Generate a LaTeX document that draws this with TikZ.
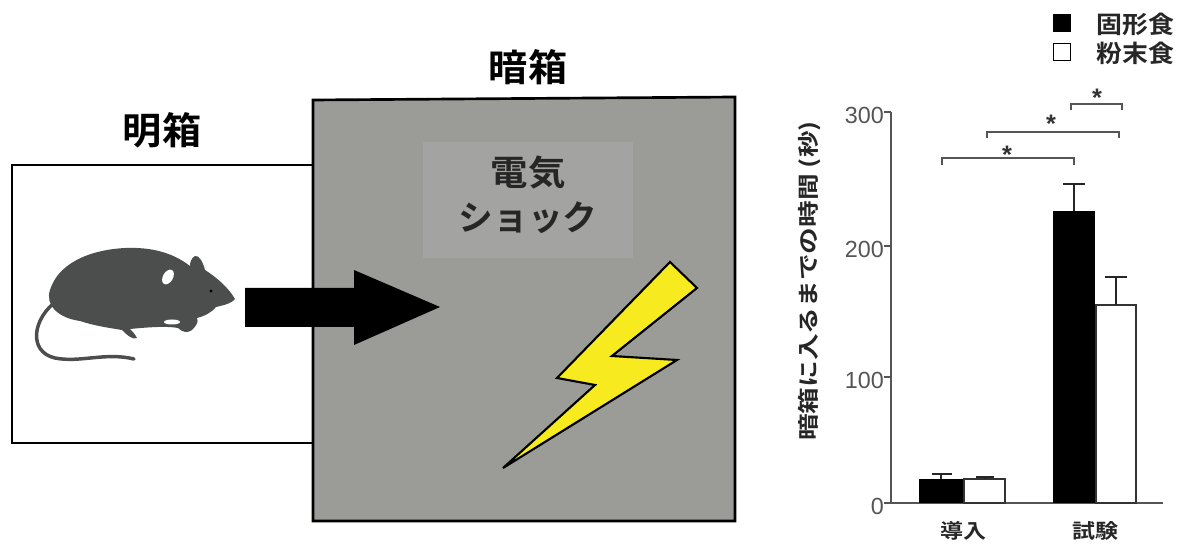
\documentclass[tikz,border=0pt]{standalone}
\usepackage{fontspec}
\setmainfont{Liberation Sans}
\newfontfamily\jp[BoldFont={Noto Sans CJK JP Bold}]{Noto Sans CJK JP}
\definecolor{roomgray}{HTML}{9B9C98}
\definecolor{panelgray}{HTML}{A3A3A1}
\definecolor{mousegray}{HTML}{4C4E4E}
\definecolor{boltyellow}{HTML}{F7EA1F}
\definecolor{axisgray}{HTML}{555555}
\newcommand{\wide}[2]{\scalebox{#1}[1]{#2}}
\begin{document}
\begin{tikzpicture}[x=0.75pt,y=-0.75pt,
  boxline/.style={draw=black,line width=2pt},
  bigjp/.style={font=\jp\bfseries\fontsize{28}{30}\selectfont,inner sep=0pt},
  axisline/.style={draw=axisgray,line width=0.9pt},
  ticklabel/.style={font=\fontsize{17.5}{19}\selectfont,text=axisgray,inner sep=0pt},
  catlabel/.style={font=\jp\bfseries\fontsize{15}{17}\selectfont,text=black!85,inner sep=0pt},
  legtext/.style={font=\jp\bfseries\fontsize{18}{20}\selectfont,text=black!85,anchor=west,inner sep=0pt},
  bracket/.style={draw=axisgray,line width=0.8pt},
  starlabel/.style={font=\bfseries\fontsize{19}{19}\selectfont,text=black!80,inner sep=0pt},
  errbar/.style={draw=black!85,line width=1pt},
  legbox/.style={draw=black,line width=1pt,minimum width=13pt,minimum height=13pt,inner sep=0pt}]
\useasboundingbox (0,0) rectangle (1183,548);
\fill[white] (0,0) rectangle (1183,548);

% ---------- bright compartment ----------
\draw[boxline] (313,165) -- (12,165) -- (12,443) -- (313,443);
\node[bigjp] (lightlabel) at (162,130) {\wide{1.05}{明箱}};

% ---------- dark compartment ----------
\draw[boxline,fill=roomgray] (313,100) -- (735,97) -- (735,521) -- (313,521) -- cycle;
\node[bigjp] (darklabel) at (528,67) {\wide{1.05}{暗箱}};
\node[fill=panelgray,minimum width=158pt,minimum height=87pt,inner sep=0pt] (panel) at (528,200) {};
\node[font=\jp\bfseries\fontsize{26}{34}\selectfont,text=black!85,align=center,inner sep=0pt] (shock) at (528,195)
  {\wide{1.08}{電気}\\ショック};

% lightning bolt
\draw[fill=boltyellow,line width=1.6pt,line join=miter]
  (670,262) -- (557,378) -- (595,385) -- (503,468) -- (677,360) -- (612,356) -- (697,288) -- cycle;

% ---------- block arrow into the dark compartment ----------
\fill[black] (245,288) -- (354,288) -- (354,270) -- (440,307) -- (354,345) -- (354,327) -- (245,327) -- cycle;

% ---------- mouse ----------
\draw[mousegray,line width=2.6pt,line cap=round]
  (58,300) .. controls (32,318) and (28,352) .. (55,358)
  .. controls (80,363) and (105,352) .. (134,359);
\fill[mousegray]
  (235,299) .. controls (228,287) and (216,277) .. (205,270)
  .. controls (203,262) and (199,255) .. (195,256)
  .. controls (191,258) and (190,263) .. (190,266)
  .. controls (172,252) and (150,247) .. (125,248)
  .. controls (88,250) and (58,264) .. (50,290)
  .. controls (45,305) and (58,318) .. (80,321)
  .. controls (95,326) and (110,328) .. (122,330)
  .. controls (128,336) and (133,340) .. (137,338)
  .. controls (135,334) and (132,331) .. (130,329)
  .. controls (150,327) and (168,326) .. (178,328)
  .. controls (183,333) and (188,333) .. (192,330)
  .. controls (196,326) and (199,322) .. (197,318)
  .. controls (205,316) and (212,312) .. (216,307)
  .. controls (225,305) and (232,303) .. (235,299) -- cycle;
\fill[white,rotate around={-30:(168,277)}] (168,277) ellipse (5 and 8);
\fill[white] (172,322) ellipse (8 and 2.5);
\fill[black] (211,291) circle (1.6);

% ---------- bar chart ----------
\coordinate (origin) at (891,503);
\draw[axisline] (891,112) -- (origin) -- (1163,503);
\foreach \v/\yy in {0/503,100/377,200/246,300/112}{
  \draw[axisline] (884,\yy) -- (891,\yy);
  \node[ticklabel,anchor=east] at (884,\yy+3) {\v};
}
% bars: intro
\fill[black] (919,479) rectangle (963,503);
\draw[line width=0.9pt,draw=black!80] (964,479) rectangle (1005,503);
\draw[errbar] (941,479) -- (941,474) (932,474) -- (952,474);
\draw[errbar] (985,479) -- (985,477) (976,477) -- (994,477);
% bars: test
\fill[black] (1053,211) rectangle (1095,503);
\draw[line width=0.9pt,draw=black!80] (1096,305) rectangle (1136,503);
\draw[errbar] (1074,211) -- (1074,184) (1063,184) -- (1085,184);
\draw[errbar,line width=1.2pt] (1116,305) -- (1116,277) (1105,277) -- (1127,277);

\node[catlabel] (intro) at (963,531) {\wide{1.15}{導入}};
\node[catlabel] (test) at (1095,531) {\wide{1.15}{試験}};

% significance brackets
\draw[bracket] (942,165) -- (942,158) -- (1074,158) -- (1074,165);
\node[starlabel] at (1007,155) {*};
\draw[bracket] (987,138) -- (987,132) -- (1119,132) -- (1119,138);
\node[starlabel] at (1051,124) {*};
\draw[bracket] (1071,110) -- (1071,104) -- (1122,104) -- (1122,110);
\node[starlabel] at (1097,98) {*};

% y axis title
\node[font=\jp\bfseries\fontsize{16}{18}\selectfont,text=black!85,rotate=90,inner sep=0pt] (ytitle) at (810,281)
  {\wide{1.25}{暗箱に入るまでの時間 (秒)}};

% legend
\node[legbox,fill=black] (solidkey) at (1062,23) {};
\node[legbox,fill=white] (powderkey) at (1062,52) {};
\node[legtext] (solidtxt) at (1096,24) {\wide{1.08}{固形食}};
\node[legtext] (powdertxt) at (1096,53) {\wide{1.08}{粉末食}};
\end{tikzpicture}
\end{document}
